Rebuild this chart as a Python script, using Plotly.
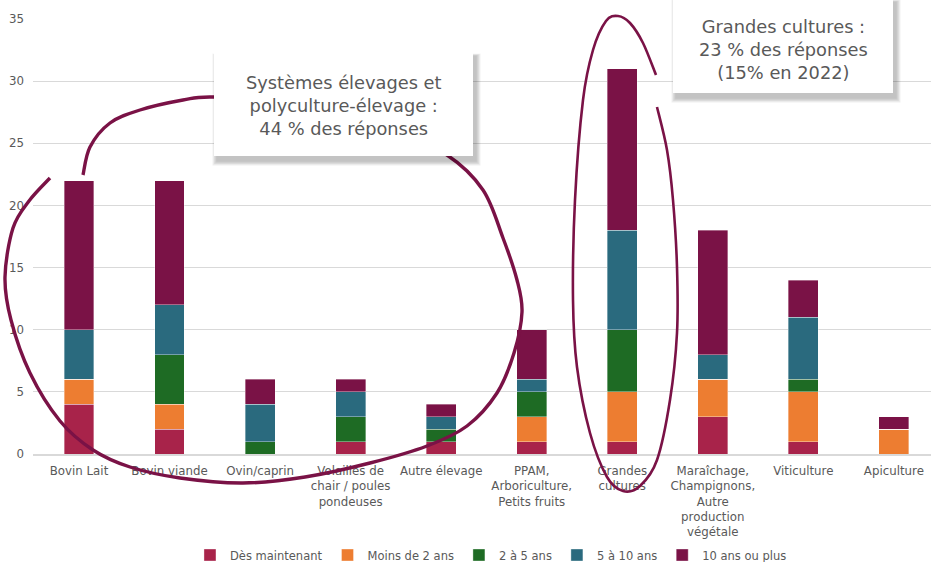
import plotly.graph_objects as go

# ---------------- data ----------------
categories = [
    "Bovin Lait",
    "Bovin viande",
    "Ovin/caprin",
    "Volailles de<br>chair / poules<br>pondeuses",
    "Autre élevage",
    "PPAM,<br>Arboriculture,<br>Petits fruits",
    "Grandes<br>cultures",
    "Maraîchage,<br>Champignons,<br>Autre<br>production<br>végétale",
    "Viticulture",
    "Apiculture",
]
series_names = ["Dès maintenant", "Moins de 2 ans", "2 à 5 ans", "5 à 10 ans", "10 ans ou plus"]
des_maintenant = [4, 2, 0, 1, 1, 1, 1, 3, 1, 0]
moins_2_ans = [2, 2, 0, 0, 0, 2, 4, 3, 4, 2]
de_2_a_5_ans = [0, 4, 1, 2, 1, 2, 5, 0, 1, 0]
de_5_a_10_ans = [4, 4, 3, 2, 1, 1, 8, 2, 5, 0]
plus_10_ans = [12, 10, 2, 1, 1, 4, 13, 10, 3, 1]
y_ticks = [0, 5, 10, 15, 20, 25, 30, 35]

annot_elevage = "Systèmes élevages et<br>polyculture-élevage :<br>44 % des réponses"
annot_gc = "Grandes cultures :<br>23 % des réponses<br>(15% en 2022)"

# ---------------- style ----------------
colors = ["#A8234A", "#ED7D31", "#1E6B24", "#2A6A7E", "#7A1246"]
TXT = "#595959"
FONT = "DejaVu Sans"
W, H = 931, 562
L, R, T, B = 33, 931, 19, 454

def px(x, y):
    return ((x - L) / (R - L), (B - y) / (B - T))

def spline_path(pts):
    n = len(pts)
    P = [pts[0]] + pts + [pts[-1]]
    x0, y0 = px(*pts[0])
    d = f"M{x0:.5f},{y0:.5f}"
    for i in range(1, n):
        p0, p1, p2, p3 = P[i - 1], P[i], P[i + 1], P[i + 2]
        c1 = (p1[0] + (p2[0] - p0[0]) / 6, p1[1] + (p2[1] - p0[1]) / 6)
        c2 = (p2[0] - (p3[0] - p1[0]) / 6, p2[1] - (p3[1] - p1[1]) / 6)
        a, b = px(*c1)
        c, e = px(*c2)
        f, g = px(*p2)
        d += f" C{a:.5f},{b:.5f} {c:.5f},{e:.5f} {f:.5f},{g:.5f}"
    return d

fig = go.Figure()
for name, vals, col in zip(series_names,
                           [des_maintenant, moins_2_ans, de_2_a_5_ans, de_5_a_10_ans, plus_10_ans],
                           colors):
    fig.add_trace(go.Bar(
        x=categories, y=vals, name=name,
        marker=dict(color=col, line=dict(color="rgba(255,255,255,0.6)", width=0.6)),
    ))

# hand-drawn loops (pixel guide points)
loop_elevage = [(83, 175), (90, 147), (110, 123), (140, 110), (183, 100), (213, 97),
                (300, 102), (380, 122), (447, 155), (483, 190), (503, 238), (517, 280),
                (522, 312), (514, 353), (497, 393), (467, 426), (427, 446), (370, 463),
                (305, 477), (243, 483), (180, 478), (130, 467), (93, 450), (60, 421),
                (30, 373), (11, 320), (5, 277), (13, 228), (29, 201), (50, 178)]
loop_gc = [(656, 75), (643, 43), (630, 23), (618, 16), (606, 21), (593, 50), (583, 100),
           (575, 200), (573, 300), (577, 367), (590, 433), (607, 477), (623, 491),
           (640, 486), (657, 460), (670, 400), (677, 333), (677, 267), (673, 200),
           (667, 150), (657, 107)]

shapes = [
    dict(type="path", xref="paper", yref="paper", path=spline_path(loop_elevage),
         line=dict(color="#7A1246", width=3.4), layer="above"),
    dict(type="path", xref="paper", yref="paper", path=spline_path(loop_gc),
         line=dict(color="#7A1246", width=2.6), layer="above"),
]

def box(x0, y0, x1, y1):
    out = []
    for i in range(8, 0, -1):
        a, b = px(x0 + 3 - i * 0.6, y1 + 5 + i * 0.6)
        c, d = px(x1 + 3 + i * 0.6, y0 + 4 - i * 0.3)
        out.append(dict(type="rect", xref="paper", yref="paper", x0=a, y0=b, x1=c, y1=d,
                        fillcolor="rgba(0,0,0,0.03)", line=dict(width=0), layer="above"))
    a, b = px(x0, y1)
    c, d = px(x1, y0)
    out.append(dict(type="rect", xref="paper", yref="paper", x0=a, y0=b, x1=c, y1=d,
                    fillcolor="white", line=dict(width=0), layer="above"))
    return out

shapes += box(214, 52, 473, 156)
shapes += box(673, -2, 893, 93)

ax, ay = px(343.5, 106)
gx, gy = px(783, 50)
annotations = [
    dict(xref="paper", yref="paper", x=ax, y=ay, text=annot_elevage, showarrow=False,
         xanchor="center", yanchor="middle", align="center",
         font=dict(family=FONT, size=17.8, color=TXT)),
    dict(xref="paper", yref="paper", x=gx, y=gy, text=annot_gc, showarrow=False,
         xanchor="center", yanchor="middle", align="center",
         font=dict(family=FONT, size=17.8, color=TXT)),
]

fig.update_layout(
    width=W, height=H,
    margin=dict(l=L, r=W - R, t=T, b=H - B, pad=0, autoexpand=False),
    barmode="stack", bargap=0.67,
    paper_bgcolor="white", plot_bgcolor="white",
    font=dict(family=FONT, size=11.5, color=TXT),
    shapes=shapes, annotations=annotations,
    showlegend=True,
    legend=dict(orientation="h", x=0.51, xanchor="center", y=(B - 555) / (B - T), yanchor="middle",
                font=dict(family=FONT, size=11.5, color=TXT), itemwidth=30, traceorder="normal",
                itemclick=False),
    xaxis=dict(categoryorder="array", categoryarray=categories, range=[-0.508, 9.41],
               showgrid=False, showline=True, linecolor="#D9D9D9", linewidth=1.5,
               ticks="", tickfont=dict(family=FONT, size=11.8, color=TXT), tickangle=0,
               ticklabelstandoff=5, automargin=False, fixedrange=True),
    yaxis=dict(range=[0, 35], tickvals=y_ticks, showgrid=True, gridcolor="#D9D9D9", gridwidth=1,
               zeroline=False, showline=False, ticks="", ticklabelstandoff=8,
               tickfont=dict(family=FONT, size=11.8, color=TXT), automargin=False,
               fixedrange=True),
)

fig.write_html("out.html")
